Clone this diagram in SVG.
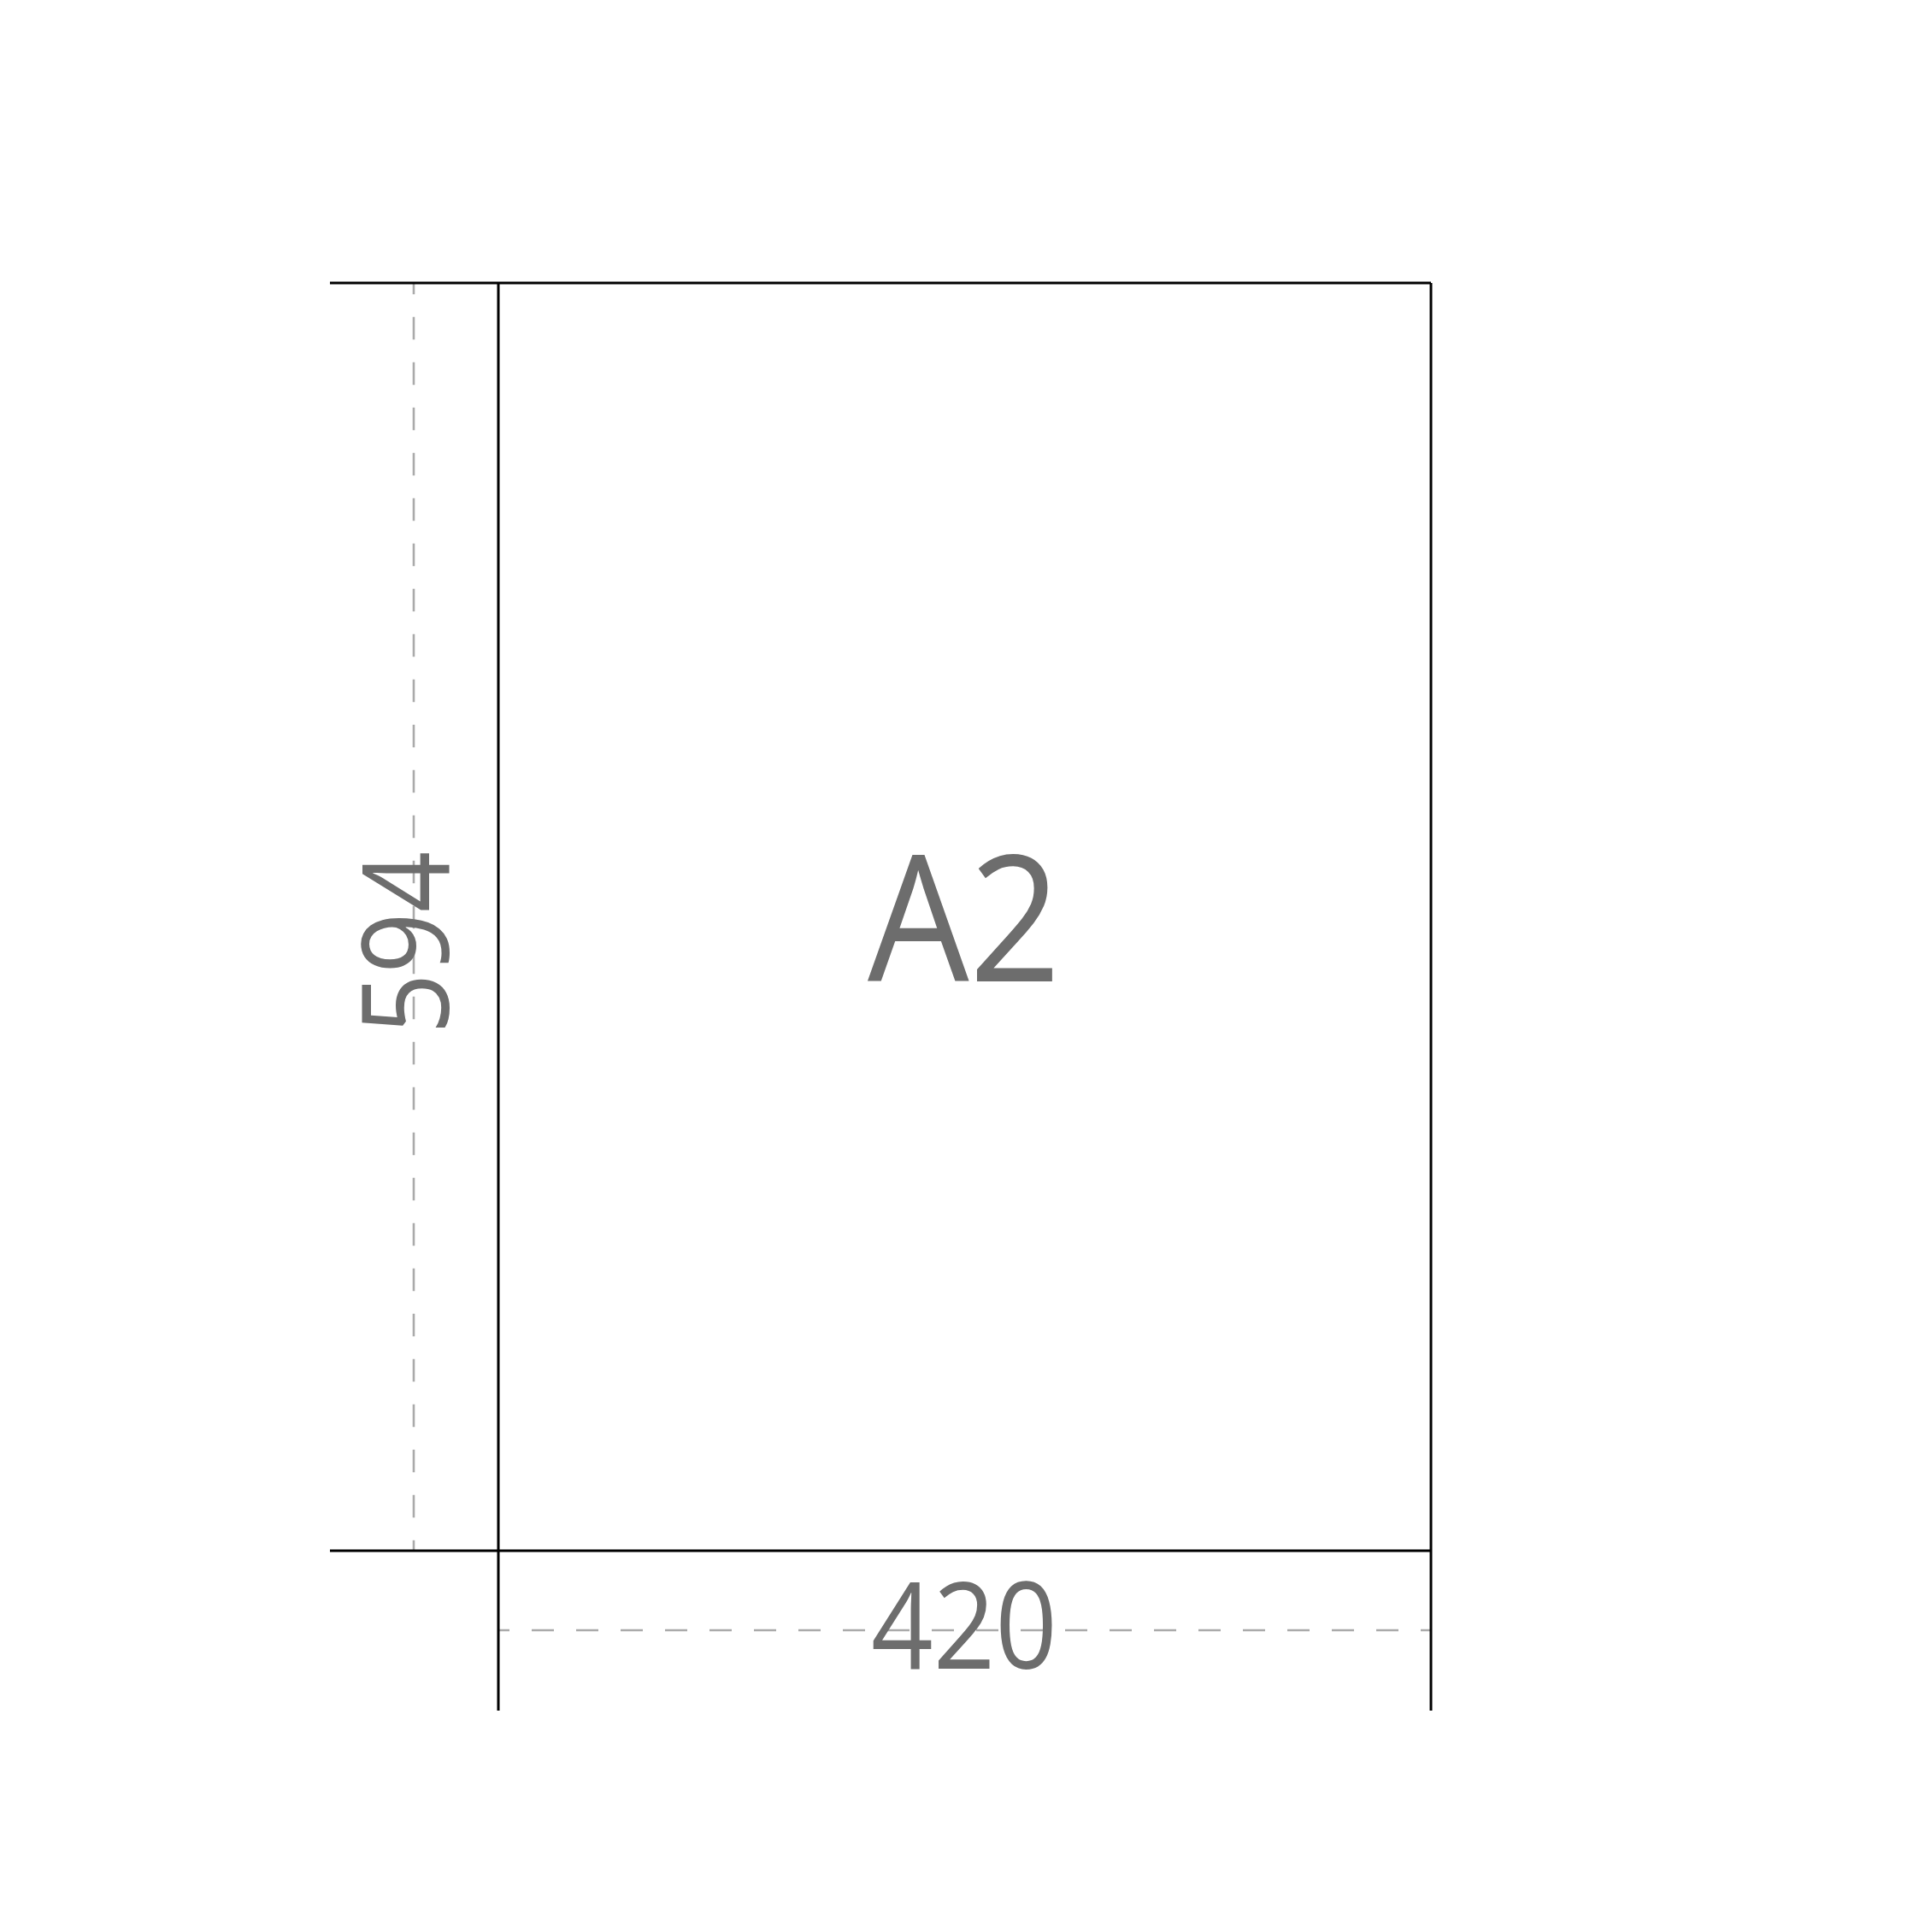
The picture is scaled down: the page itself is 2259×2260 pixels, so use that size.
<svg xmlns="http://www.w3.org/2000/svg" width="2259" height="2260" viewBox="0 0 2259 2260">
<style>
.edge{stroke:#000;stroke-width:3;fill:none}
.dim{stroke:#aaaaaa;stroke-width:2.6;fill:none}
.dimv{stroke-dasharray:26.5 26.5;stroke-dashoffset:13.25}
.dimh{stroke-dasharray:26 26;stroke-dashoffset:13}
.lbl{font-family:"Open Sans","Liberation Sans",sans-serif;fill:#6d6d6d;text-anchor:middle}
</style>
<rect width="2259" height="2260" fill="#fff"/>
<g id="connectors">
<line class="dim dimv" x1="484" y1="331" x2="484" y2="1814"/>
<line class="dim dimh" x1="583" y1="1907" x2="1674" y2="1907"/>
<line class="edge" x1="386" y1="331" x2="1674" y2="331"/>
<line class="edge" x1="386" y1="1814" x2="1674" y2="1814"/>
<line class="edge" x1="583" y1="331" x2="583" y2="2001"/>
<line class="edge" x1="1674" y1="331" x2="1674" y2="2001"/>
</g>
<g id="sheet">
<text class="lbl" x="1128" y="1148" font-size="205" textLength="226" lengthAdjust="spacingAndGlyphs">A2</text>
</g>
<g id="width-dim">
<text class="lbl" x="1128" y="1952" font-size="141" textLength="218" lengthAdjust="spacingAndGlyphs">420</text>
</g>
<g id="height-dim">
<text class="lbl" transform="translate(525,1103) rotate(-90)" x="0" y="0" font-size="141" textLength="214" lengthAdjust="spacingAndGlyphs">594</text>
</g>
</svg>
